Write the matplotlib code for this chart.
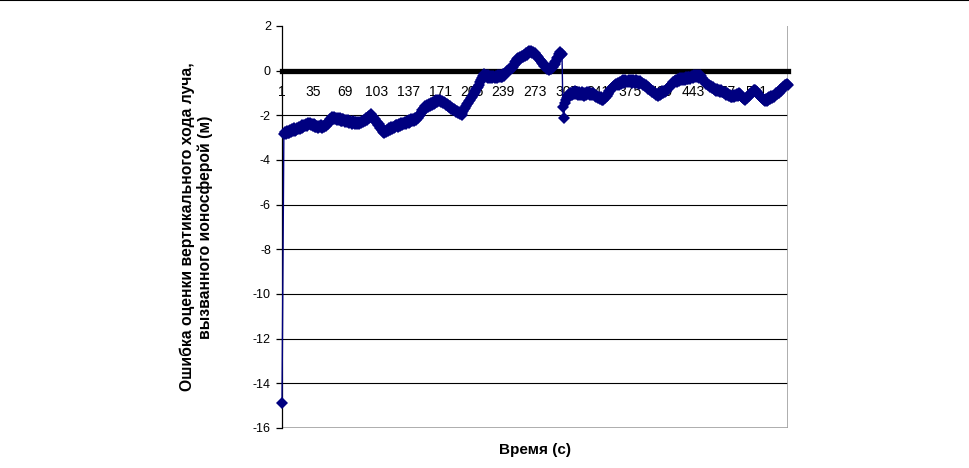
import matplotlib
matplotlib.use("Agg")
import matplotlib.pyplot as plt
import numpy as np

plt.rcParams['font.family'] = ['Liberation Sans', 'DejaVu Sans']

values = [
    -14.9, -8.8, -2.85,
    -2.75, -2.82, -2.68, -2.77, -2.70,
    -2.78, -2.66, -2.74, -2.62, -2.71, -2.58, -2.69, -2.64, -2.55, -2.62,
    -2.53, -2.61, -2.50, -2.56, -2.45, -2.52, -2.42, -2.49, -2.38, -2.46, -2.34, -2.41, -2.35,
    -2.42, -2.37, -2.47, -2.40, -2.51, -2.44, -2.53, -2.46, -2.56, -2.48, -2.54, -2.45, -2.55, -2.47, -2.50,
    -2.42, -2.46, -2.35, -2.38, -2.26, -2.30, -2.18, -2.22, -2.08,
    -2.15, -2.06, -2.17, -2.10, -2.20, -2.12, -2.22, -2.14, -2.24, -2.16, -2.25, -2.15, -2.20,
    -2.28, -2.19, -2.30, -2.22, -2.33, -2.24, -2.31, -2.38, -2.27, -2.36, -2.29, -2.40, -2.31, -2.37, -2.28, -2.39, -2.30, -2.35,
    -2.27, -2.31, -2.20, -2.25, -2.14, -2.19, -2.08, -2.13, -2.01, -2.06, -1.95,
    -2.05, -2.08, -2.20, -2.18, -2.32, -2.30, -2.43, -2.40, -2.55, -2.52, -2.64, -2.62, -2.74, -2.78,
    -2.70, -2.75, -2.64, -2.70, -2.58, -2.65, -2.54, -2.60, -2.50, -2.57, -2.46, -2.53, -2.42, -2.45,
    -2.52, -2.40, -2.47, -2.36, -2.44, -2.33, -2.40, -2.30, -2.37, -2.26, -2.28,
    -2.34, -2.22, -2.30, -2.18, -2.27, -2.15, -2.24, -2.12, -2.20, -2.07, -2.10,
    -2.02, -1.98, -1.90, -1.86, -1.78, -1.74, -1.65, -1.60,
    -1.67, -1.55, -1.62, -1.50, -1.58, -1.46, -1.54, -1.42, -1.50, -1.38, -1.45, -1.33, -1.40, -1.30,
    -1.37, -1.32, -1.42, -1.36, -1.47, -1.40, -1.45,
    -1.52, -1.48, -1.58, -1.54, -1.64, -1.60, -1.70, -1.65, -1.75, -1.70, -1.76,
    -1.84, -1.80, -1.90, -1.86, -1.95, -1.90, -1.98,
    -1.88, -1.82, -1.72, -1.66, -1.56, -1.50,
    -1.45, -1.36, -1.32, -1.22, -1.18, -1.08, -1.03, -0.94, -0.90, -0.82, -0.78, -0.72,
    -0.62, -0.52, -0.43, -0.33, -0.24, -0.15,
    -0.24, -0.18, -0.28, -0.20, -0.31, -0.22, -0.33, -0.25, -0.34, -0.24, -0.27,
    -0.35, -0.23, -0.32, -0.20, -0.30, -0.18, -0.29, -0.19, -0.28, -0.17, -0.22,
    -0.14, -0.12, -0.03, -0.02, 0.06, 0.05, 0.14, 0.12, 0.18,
    0.27, 0.30, 0.39, 0.42, 0.51, 0.57,
    0.50, 0.60, 0.55, 0.66, 0.61, 0.72, 0.66, 0.78, 0.72, 0.84, 0.80, 0.90,
    0.82, 0.88, 0.78, 0.83, 0.73, 0.79, 0.72,
    0.64, 0.62, 0.52, 0.50, 0.42, 0.40,
    0.33, 0.30, 0.22, 0.19, 0.15,
    0.08, 0.13, 0.04, 0.10, 0.08,
    0.15, 0.18, 0.26, 0.30, 0.38, 0.44, 0.55, 0.62, 0.74, 0.82,
    0.70, 0.76,
    -1.62, -2.12, -1.45,
    -1.30, -1.22, -1.15, -1.08, -1.12, -0.98, -1.00,
    -1.08, -0.95, -1.06, -0.93, -1.04, -0.96, -1.10, -0.97, -1.08, -1.05,
    -0.96, -1.09, -0.98, -1.12, -1.00, -1.10, -0.97, -1.06, -0.94, -1.07, -0.98, -1.11, -1.00, -1.05,
    -1.12, -1.08, -1.18, -1.12, -1.22, -1.16, -1.26, -1.20, -1.32, -1.30,
    -1.22, -1.24, -1.14, -1.12, -1.03, -1.00, -0.92, -0.90, -0.82, -0.79, -0.71, -0.69, -0.62, -0.60,
    -0.66, -0.54, -0.62, -0.50, -0.59, -0.47, -0.56, -0.44, -0.53, -0.41, -0.50, -0.45,
    -0.52, -0.40, -0.49, -0.43, -0.54, -0.42, -0.51, -0.45, -0.56, -0.44, -0.53, -0.47, -0.58, -0.48, -0.57, -0.55,
    -0.63, -0.60, -0.68, -0.66, -0.75, -0.72, -0.81, -0.78, -0.88, -0.85, -0.94, -0.92, -1.01, -0.98, -1.08, -1.04, -1.12,
    -1.02, -1.08, -0.98, -1.04, -0.93, -1.00, -0.89, -0.96, -0.90,
    -0.82, -0.80, -0.71, -0.70, -0.62, -0.60, -0.52, -0.53, -0.45, -0.47, -0.42,
    -0.49, -0.38, -0.46, -0.35, -0.44, -0.33, -0.42, -0.31, -0.40, -0.30, -0.39, -0.28, -0.37, -0.27, -0.36, -0.30,
    -0.22, -0.32, -0.20, -0.30, -0.18, -0.29, -0.19, -0.31, -0.21, -0.25,
    -0.32, -0.35, -0.42, -0.45, -0.50,
    -0.58, -0.55, -0.65, -0.62, -0.72, -0.68, -0.78, -0.74, -0.80,
    -0.88, -0.80, -0.90, -0.83, -0.93, -0.85, -0.96, -0.87, -0.97, -0.94,
    -1.02, -0.97, -1.07, -1.01, -1.11, -1.05, -1.15, -1.08, -1.19, -1.17,
    -1.10, -1.18, -1.07, -1.15, -1.04, -1.12, -1.01, -1.05,
    -1.12, -1.15, -1.20, -1.24, -1.28, -1.30,
    -1.24, -1.22, -1.14, -1.13, -1.05, -1.04, -0.96, -0.97, -0.88, -0.91, -0.85,
    -0.93, -0.96, -1.03, -1.08, -1.12, -1.18, -1.22, -1.29, -1.30, -1.35,
    -1.27, -1.34, -1.22, -1.30, -1.19, -1.26, -1.15, -1.22, -1.12, -1.18, -1.10,
    -1.02, -1.05, -0.95, -0.98, -0.88, -0.91, -0.81, -0.84, -0.75, -0.72, -0.66, -0.62, -0.58, -0.62,
]

x_tick_labels = ['1', '35', '69', '103', '137', '171', '205', '239', '273',
                 '307', '341', '375', '409', '443', '477', '511']
y_ticks = [2, 0, -2, -4, -6, -8, -10, -12, -14, -16]
y_label = 'Ошибка оценки вертикального хода луча,\nвызванного ионосферой (м)'
x_label = 'Время (с)'

n = len(values)
x = np.arange(1, n + 1)

fig = plt.figure(figsize=(9.69, 4.68), dpi=100)
ax = fig.add_axes([282/969, 1 - 428/468, (788-282)/969, (428-26)/468])

# gridlines
for yv in y_ticks:
    if yv in (2, 0, -16):
        continue
    ax.axhline(yv, color='black', lw=0.8, zorder=1)
ax.axhline(-16, color='#a0a0a0', lw=1.2, zorder=1)
ax.axvline(n, color='#a0a0a0', lw=1.2, zorder=1)

marker_idx = [i for i in range(n) if i != 1]
ax.plot(x, values, color='#000080', lw=1.0, marker='D', markersize=6.0,
        markeredgewidth=0, markevery=marker_idx, zorder=4, clip_on=False)

ax.set_xlim(1, n)
ax.set_ylim(-16, 2)

ax.spines['top'].set_visible(False)
ax.spines['right'].set_visible(False)
ax.spines['bottom'].set_position(('data', 0))
ax.spines['bottom'].set_linewidth(3.8)
ax.spines['bottom'].set_zorder(3)
ax.spines['left'].set_linewidth(0.9)

ax.set_yticks(y_ticks)
ax.set_yticklabels([str(v) for v in y_ticks])
ax.tick_params(axis='y', direction='out', length=4, width=0.9, pad=4, labelsize=9)

tick_pos = [int(t) for t in x_tick_labels]
ax.set_xticks(tick_pos)
ax.set_xticklabels(x_tick_labels)
ax.tick_params(axis='x', length=0, pad=10, labelsize=10)

ax.set_facecolor('white')

fig.text(196/969, 1 - 227/468, y_label, rotation=90, ha='center', va='center',
         fontsize=11.3, fontweight='bold', linespacing=1.15)
fig.text(535/969, 1 - 450/468, x_label, ha='center', va='center',
         fontsize=11, fontweight='bold')

# top border line of the figure
fig.add_artist(plt.Line2D([0, 1], [0.999, 0.999], color='black', lw=1.5,
                          transform=fig.transFigure))

fig.savefig('out.png', dpi=100)
